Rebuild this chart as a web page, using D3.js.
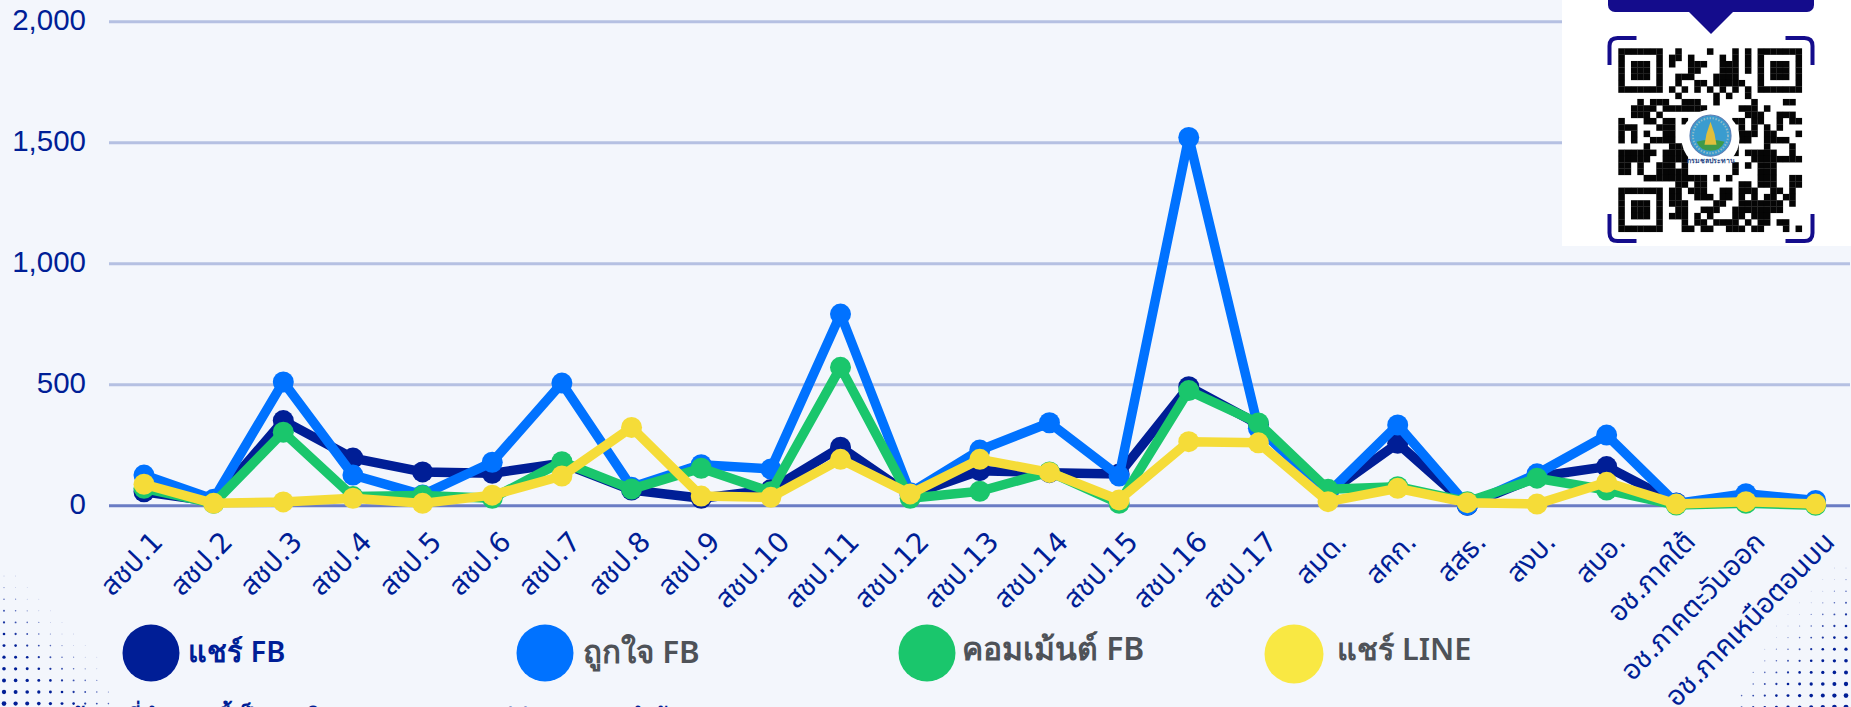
<!DOCTYPE html>
<html lang="th"><head><meta charset="utf-8">
<script src="https://cdn.jsdelivr.net/npm/d3@7"></script>
<style>
html,body{margin:0;padding:0;background:#f3f6fc;overflow:hidden}
svg{display:block}
</style></head><body>
<svg id="chart" width="1851" height="707"></svg>
<script>
const categories = ["สชป.1","สชป.2","สชป.3","สชป.4","สชป.5","สชป.6","สชป.7","สชป.8","สชป.9","สชป.10","สชป.11","สชป.12","สชป.13","สชป.14","สชป.15","สชป.16","สชป.17","สมด.","สคก.","สสธ.","สงบ.","สบอ.","อช.ภาคใต้","อช.ภาคตะวันออก","อช.ภาคเหนือตอนบน"];
const shareFb   = [56,15,350,195,138,132,174,63,29,65,240,43,143,135,129,490,335,50,256,0,118,160,10,15,10];
const likeFb    = [125,25,510,125,43,178,505,75,168,150,790,52,228,341,121,1520,318,50,332,1,130,290,8,48,20];
const commentFb = [70,8,302,36,40,29,180,67,153,56,570,29,58,138,8,474,340,66,77,15,112,63,1,8,0];
const shareLine = [87,8,14,29,8,42,121,322,38,33,190,47,190,136,22,263,258,15,70,11,5,95,5,15,5];
const yTicks = [0,500,1000,1500,2000];
const legendLabels = ["แชร์ FB","ถูกใจ FB","คอมเม้นต์ FB","แชร์ LINE"];
const footnote = "ข้อมูลที่นำเสนอนี้เป็นการติดตามผลการเผยแพร่ข่าวสารของสำนักงาน";
const qrRows = [
 [9,14,18,20],[8,9,11,16,18,20],[8,11,12,13,16,17,18,20],[11,12,16,17,18,20],[9,10,11,15,16,17,18],[9,12,13,15,16,17,18,19],
 [8,10,12,14,16,18,20],[9,15,17,20],
 [3,5,6,7,10,11,12,15,21,26,27],[2,3,4,5,7,8,9,10,11,12,13,19,20,21,23],[2,3,4,6,20,21,22,25,26,27],
 [0,4,5,7,8,10,18,19,21,22,25,27,28],[0,1,2,6,7,8,19,21,23,25],[0,2,4,7,8,19,20,21,23,24,28],[0,2,5,6,7,8,19,20,23,24,25,26],
 [4,8,9,10,18,23,27],[0,1,2,3,4,5,7,8,9,10,18,20,21,22,23,24,27],[0,1,2,3,4,7,8,9,10,21,22,23,24,25,26,27,28],
 [0,1,3,6,7,8,10,18,20,22,23,24],[0,1,3,6,7,8,9,10,18,22,23,24],[4,5,6,7,8,9,10,11,12,13,15,17,22,23,24,27,28],[9,10,12,13,19,20,22,23,24,27,28],
 [8,9,11,12,13,16,17,19,20,21,24,25,27],[8,9,12,13,14,16,17,19,21,23,24,26,27],[8,9,10,15,16,19,20,21,22,23,24,25,27],[9,10,13,14,15,18,19,20,21,22,23,24,25],
 [8,9,10,12,14,18,19,21,22,23],[10,12,13,15,16,17,18,20,22,23,25,26],[10,11,13,14,17,18,19,21,22,26,28]
];

const navy="#001e96", blue="#0072ff", green="#1ac66c", yellow="#f5dc38", bg="#f3f6fc";
const colors=[navy,blue,green,yellow];
const series=[shareFb,likeFb,commentFb,shareLine];
const svg=d3.select("#chart");
const W=1851,H=707;
svg.append("rect").attr("width",W).attr("height",H).attr("fill",bg);

// halftone corners
const step=11.6;
const dotsL=svg.append("g").attr("fill",navy);
for(let r=0;r<12;r++)for(let c=0;c<10;c++){
  if(c>Math.min(r+1,r*0.35+5.8))continue;
  const s=Math.max(0.02,(r-c+0.5)/11);
  dotsL.append("circle").attr("cx",4+c*step).attr("cy",576+r*step).attr("r",0.35+s*1.9).attr("opacity",Math.min(1,0.35+s*1.3));
}
const dotsR=svg.append("g").attr("fill",navy);
for(let r=0;r<13;r++)for(let c=0;c<11;c++){
  if(c>Math.min(r+1,r*0.5+3.6))continue;
  const s=Math.max(0.02,(r-c+0.5)/11);
  dotsR.append("circle").attr("cx",1846-c*step).attr("cy",568+r*step).attr("r",0.35+s*1.9).attr("opacity",Math.min(1,0.35+s*1.3));
}

const x=d3.scalePoint().domain(categories).range([144,1815.6]);
const y=d3.scaleLinear().domain([0,2000]).range([505.3,21.3]);
const g=svg.append("g");

// gridlines & y labels
const yAxis=d3.axisLeft(y).tickValues(yTicks).tickFormat(d3.format(",")).tickSize(0).tickPadding(23);
const ya=g.append("g").attr("transform","translate(109,0)").call(yAxis);
ya.select(".domain").remove();
ya.selectAll("text").attr("font-family","'Liberation Sans',Arial,sans-serif").attr("font-size",29.5).attr("fill",navy).attr("dy","0.33em").attr("transform","translate(0,-2)");
ya.selectAll("line").attr("x1",0).attr("x2",1741).attr("stroke",d=>d===0?"#6a7cc4":"#b5c0e2").attr("stroke-width",3);

// x labels
const xAxis=d3.axisBottom(x).tickSize(0).tickPadding(0);
const xa=g.append("g").attr("transform","translate(0,505.3)").call(xAxis);
xa.select(".domain").remove();
xa.selectAll("text")
  .attr("font-family","'DejaVu Sans','Noto Sans Thai','Noto Sans',sans-serif").attr("font-size",28).attr("fill",navy)
  .attr("text-anchor","end").attr("dy",0).attr("y",0)
  .attr("transform","translate(20,38) rotate(-46)");

// series
const line=d3.line().x((d,i)=>x(categories[i])).y(d=>y(d));
series.forEach((s,k)=>{
  const sg=g.append("g");
  sg.append("path").datum(s).attr("d",line).attr("fill","none").attr("stroke",colors[k]).attr("stroke-width",9.5).attr("stroke-linejoin","round");
  sg.selectAll("circle").data(s).join("circle").attr("cx",(d,i)=>x(categories[i])).attr("cy",d=>y(d)).attr("r",10.5).attr("fill",colors[k]);
});

// legend
const legendX=[122,516,898,1265], legendCol=[navy,blue,green,"#f9e843"];
const legendTextX=[188,583,962,1337], legendTextCol=[navy,"#4e5258","#4e5258","#4e5258"];
const legendSize=[29,31.3,31.8,30.6];
legendLabels.forEach((t,i)=>{
  svg.append("circle").attr("cx",legendX[i]+29).attr("cy",i===3?654:653).attr("r",i===3?29.5:28.5).attr("fill",legendCol[i]);
  svg.append("text").attr("x",legendTextX[i]).attr("y",i===0?662:(i===1?663:660)).text(t)
    .attr("font-family","'Noto Sans',sans-serif").attr("font-weight",600).attr("font-size",legendSize[i]).attr("fill",legendTextCol[i]);
});

// clipped footnote
svg.append("text").attr("x",70).attr("y",724).text(footnote)
  .attr("font-family","'Noto Sans',sans-serif").attr("font-weight",700).attr("font-size",22).attr("fill",navy);

// QR panel
const qr=svg.append("g");
qr.append("rect").attr("x",1562).attr("y",0).attr("width",289).attr("height",246).attr("fill","#fff");
const indigo="#140c8c";
qr.append("rect").attr("x",1608).attr("y",-10).attr("width",206).attr("height",22).attr("rx",7).attr("fill",indigo);
qr.append("path").attr("d","M1688,11L1734,11L1711,34Z").attr("fill",indigo);
const bx0=1609.5,by0=38,bx1=1812.5,by1=241,arm=27;
[[bx0,by0,1,1],[bx1,by0,-1,1],[bx0,by1,1,-1],[bx1,by1,-1,-1]].forEach(([a,b,sx,sy])=>{
  qr.append("path").attr("fill","none").attr("stroke",indigo).attr("stroke-width",4)
    .attr("d",`M${a},${b+sy*(arm)}V${b+sy*8}Q${a},${b} ${a+sx*8},${b}H${a+sx*arm}`);
});
const qx=1618.3,qy=48.3,m=6.33;
const mod=(c,r)=>qr.append("rect").attr("x",qx+c*m).attr("y",qy+r*m).attr("width",m+0.2).attr("height",m+0.2).attr("fill","#050505");
qrRows.forEach((cols,r)=>cols.forEach(c=>mod(c,r)));
[[0,0],[22,0],[0,22]].forEach(([c0,r0])=>{
  for(let r=0;r<7;r++)for(let c=0;c<7;c++){
    const ring=(r===0||r===6||c===0||c===6), core=(r>=2&&r<=4&&c>=2&&c<=4);
    if(ring||core)mod(c0+c,r0+r);
  }
});
// seal
const sx=1710.5,sy=135.7;
qr.append("circle").attr("cx",sx).attr("cy",sy+3).attr("r",29).attr("fill","#fff");
qr.append("circle").attr("cx",sx).attr("cy",sy).attr("r",20.5).attr("fill","#3a9ccf").attr("stroke","#5b7fb5").attr("stroke-width",1.2);
qr.append("circle").attr("cx",sx).attr("cy",sy).attr("r",17.5).attr("fill","none").attr("stroke","#8fb9c9").attr("stroke-width",2).attr("stroke-dasharray","1.5 1.5");
qr.append("path").attr("d",`M${sx-14},${sy+6}Q${sx},${sy+2} ${sx+14},${sy+6}Q${sx+10},${sy+15} ${sx},${sy+15}Q${sx-10},${sy+15} ${sx-14},${sy+6}Z`).attr("fill","#3f9a4a");
qr.append("path").attr("d",`M${sx},${sy-14}L${sx+4},${sy-2}L${sx+6},${sy+9}H${sx-6}L${sx-4},${sy-2}Z`).attr("fill","#e0bf3c");
qr.append("text").attr("x",sx).attr("y",sy+27).attr("text-anchor","middle").text("กรมชลประทาน")
  .attr("font-family","'Noto Sans',sans-serif").attr("font-size",7).attr("font-weight",700).attr("fill","#2b4a86");
</script>
</body></html>
